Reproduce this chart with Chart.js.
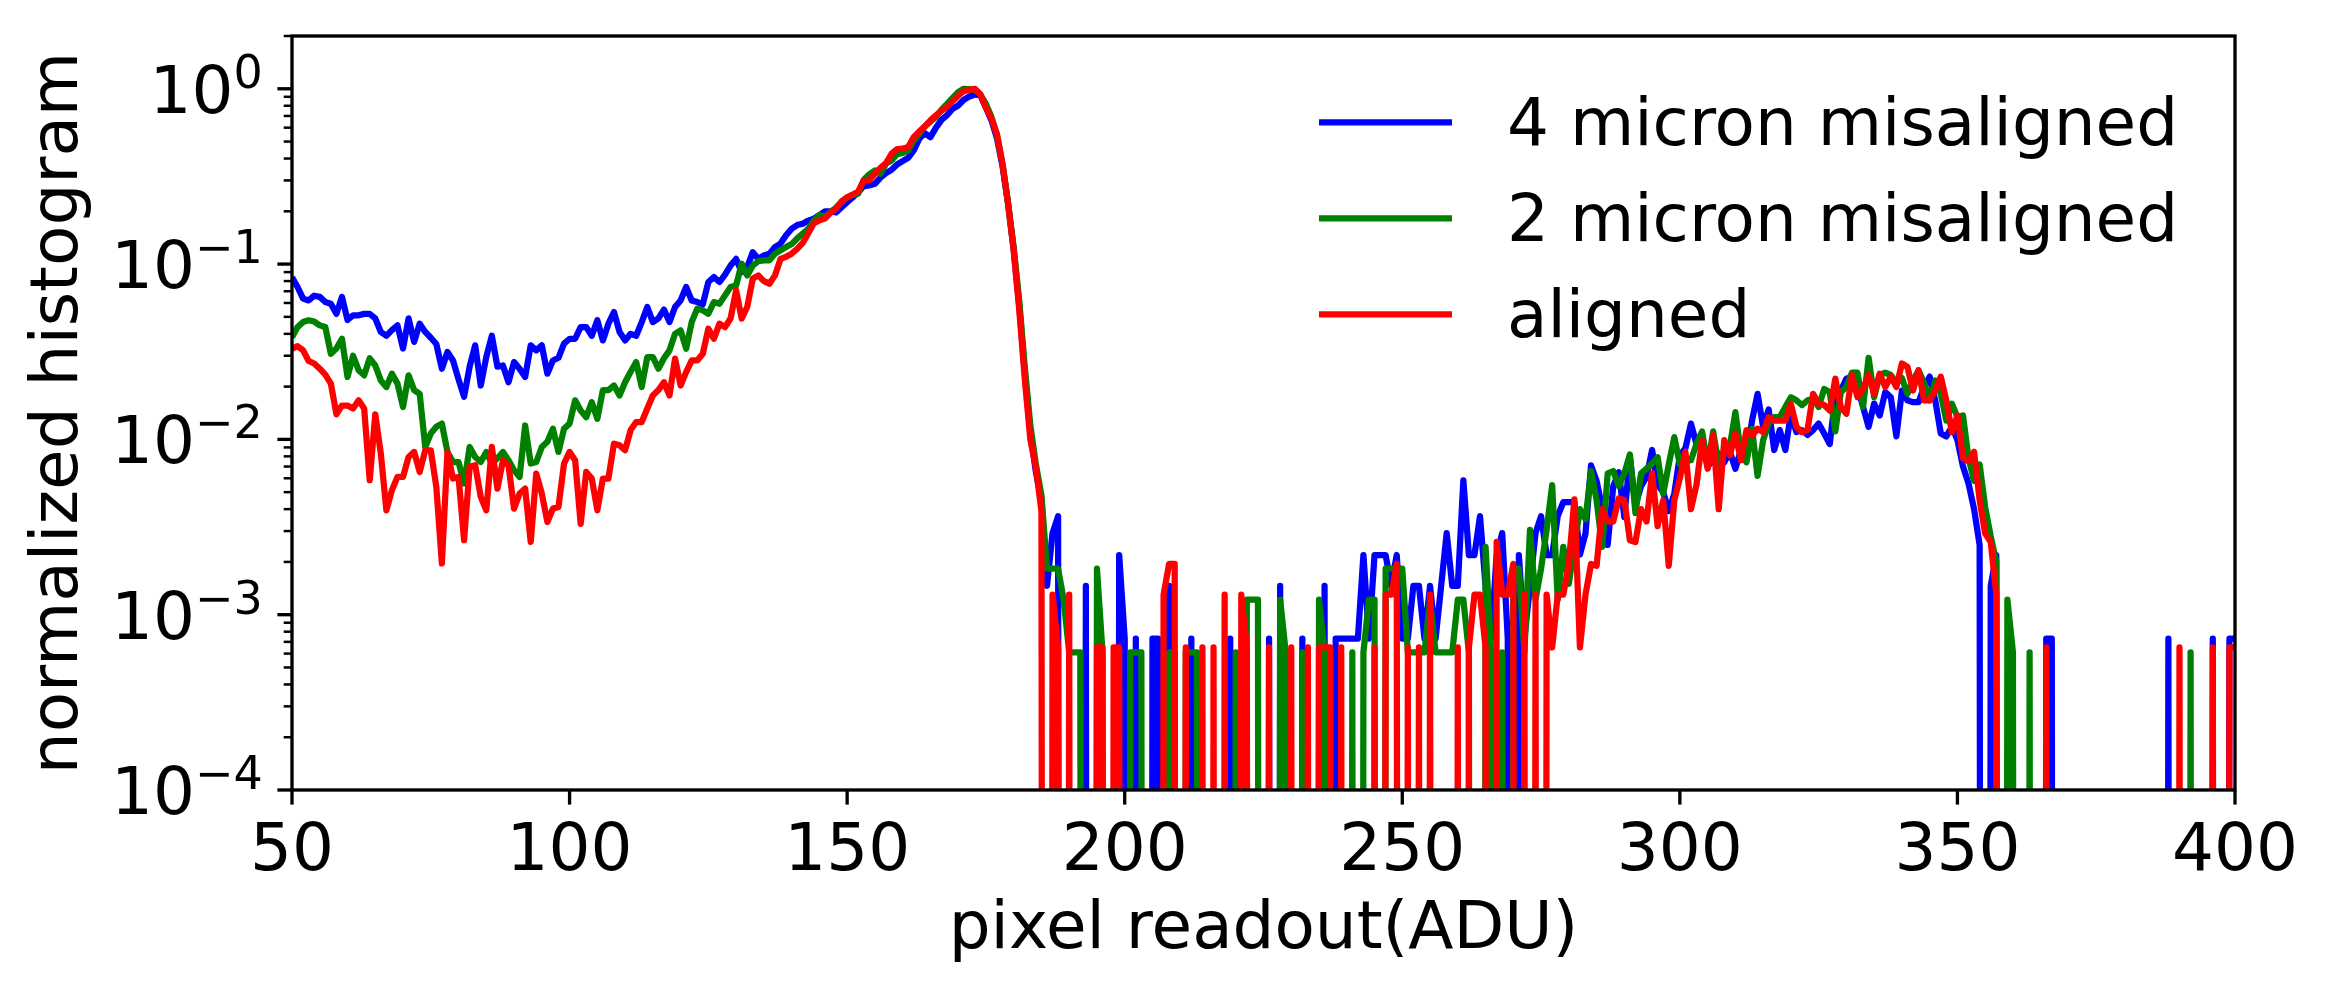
<!DOCTYPE html>
<html>
<head>
<meta charset="utf-8">
<title>normalized histogram</title>
<script src="https://cdn.jsdelivr.net/npm/chart.js"></script>
<style>
  html, body { margin: 0; padding: 0; background: #ffffff; }
  #wrap { width: 2326px; height: 990px; }
</style>
</head>
<body>
<div id="wrap"><canvas id="histChart"></canvas></div>
<script>
// pixel readout bins (ADU)
var adu = [
  50, 51, 52, 53, 54, 55, 56, 57, 58, 59,
  60, 61, 62, 63, 64, 65, 66, 67, 68, 69,
  70, 71, 72, 73, 74, 75, 76, 77, 78, 79,
  80, 81, 82, 83, 84, 85, 86, 87, 88, 89,
  90, 91, 92, 93, 94, 95, 96, 97, 98, 99,
  100, 101, 102, 103, 104, 105, 106, 107, 108, 109,
  110, 111, 112, 113, 114, 115, 116, 117, 118, 119,
  120, 121, 122, 123, 124, 125, 126, 127, 128, 129,
  130, 131, 132, 133, 134, 135, 136, 137, 138, 139,
  140, 141, 142, 143, 144, 145, 146, 147, 148, 149,
  150, 151, 152, 153, 154, 155, 156, 157, 158, 159,
  160, 161, 162, 163, 164, 165, 166, 167, 168, 169,
  170, 171, 172, 173, 174, 175, 176, 177, 178, 179,
  180, 181, 182, 183, 184, 185, 186, 187, 188, 189,
  190, 191, 192, 193, 194, 195, 196, 197, 198, 199,
  200, 201, 202, 203, 204, 205, 206, 207, 208, 209,
  210, 211, 212, 213, 214, 215, 216, 217, 218, 219,
  220, 221, 222, 223, 224, 225, 226, 227, 228, 229,
  230, 231, 232, 233, 234, 235, 236, 237, 238, 239,
  240, 241, 242, 243, 244, 245, 246, 247, 248, 249,
  250, 251, 252, 253, 254, 255, 256, 257, 258, 259,
  260, 261, 262, 263, 264, 265, 266, 267, 268, 269,
  270, 271, 272, 273, 274, 275, 276, 277, 278, 279,
  280, 281, 282, 283, 284, 285, 286, 287, 288, 289,
  290, 291, 292, 293, 294, 295, 296, 297, 298, 299,
  300, 301, 302, 303, 304, 305, 306, 307, 308, 309,
  310, 311, 312, 313, 314, 315, 316, 317, 318, 319,
  320, 321, 322, 323, 324, 325, 326, 327, 328, 329,
  330, 331, 332, 333, 334, 335, 336, 337, 338, 339,
  340, 341, 342, 343, 344, 345, 346, 347, 348, 349,
  350, 351, 352, 353, 354, 355, 356, 357, 358, 359,
  360, 361, 362, 363, 364, 365, 366, 367, 368, 369,
  370, 371, 372, 373, 374, 375, 376, 377, 378, 379,
  380, 381, 382, 383, 384, 385, 386, 387, 388, 389,
  390, 391, 392, 393, 394, 395, 396, 397, 398, 399,
  400
];

// 4 micron misaligned
var misaligned4 = [
  0.084, 0.074, 0.0635, 0.062, 0.066, 0.065, 0.0607, 0.0594, 0.052, 0.065,
  0.048, 0.051, 0.051, 0.052, 0.052, 0.049, 0.041, 0.039, 0.042, 0.0447,
  0.033, 0.049, 0.036, 0.0457, 0.041, 0.038, 0.035, 0.0253, 0.0315, 0.0282,
  0.022, 0.0175, 0.026, 0.0344, 0.0203, 0.0295, 0.039, 0.026, 0.0264, 0.0212,
  0.0276, 0.0253, 0.0227, 0.0344, 0.0322, 0.0344, 0.0237, 0.0282, 0.0292, 0.0352,
  0.0375, 0.0375, 0.0437, 0.0437, 0.039, 0.0478, 0.0367, 0.0457, 0.0533, 0.041,
  0.0367, 0.040, 0.039, 0.0467, 0.0569, 0.0467, 0.049, 0.055, 0.0467, 0.0569,
  0.062, 0.074, 0.062, 0.0607, 0.059, 0.079, 0.0843, 0.079, 0.087, 0.098,
  0.107, 0.090, 0.096, 0.117, 0.107, 0.112, 0.1146, 0.125, 0.131, 0.146,
  0.159, 0.167, 0.170, 0.177, 0.1815, 0.19, 0.200, 0.200, 0.197, 0.211,
  0.2256, 0.24, 0.257, 0.278, 0.281, 0.287, 0.311, 0.330, 0.345, 0.370,
  0.387, 0.404, 0.445, 0.52, 0.558, 0.53, 0.60, 0.665, 0.708, 0.769,
  0.803, 0.866, 0.903, 0.928, 0.916, 0.78, 0.66, 0.52, 0.36, 0.22,
  0.12, 0.058, 0.024, 0.011, 0.0065, 0.0045, 0.00146, 0.00292, 0.00365, 0,
  0, 0, 0, 0.00146, 0, 0, 0, 0, 0, 0.00219,
  0.00073, 0, 0.00073, 0, 0, 0.00073, 0.00073, 0, 0.00146, 0,
  0, 0, 0.00073, 0, 0, 0, 0, 0, 0, 0.00073,
  0, 0, 0, 0, 0, 0, 0.00073, 0, 0.00146, 0,
  0, 0, 0.00073, 0, 0, 0, 0.00146, 0, 0.00073, 0.00073,
  0.00073, 0.00073, 0.00073, 0.00219, 0.00073, 0.00219, 0.00219, 0.00219, 0.00146, 0.00219,
  0.00073, 0.00073, 0.00146, 0.00146, 0.00073, 0.00146, 0.00073, 0.00146, 0.00292, 0.00146,
  0.00146, 0.00584, 0.00219, 0.00219, 0.00365, 0.00146, 0.00073, 0.00219, 0.00292, 0.00073,
  0, 0.00219, 0.00073, 0.00146, 0.00292, 0.00365, 0.00219, 0.00219, 0.00365, 0.00438,
  0.00438, 0.00438, 0.0022, 0.0029, 0.0071, 0.0058, 0.0041, 0.0025, 0.0054, 0.0065,
  0.0036, 0.0079, 0.0042, 0.0054, 0.0061, 0.0087, 0.0055, 0.005, 0.0039, 0.0049,
  0.0081, 0.0089, 0.0123, 0.0094, 0.0108, 0.007, 0.0076, 0.0083, 0.0074, 0.0085,
  0.0068, 0.0087, 0.0076, 0.0128, 0.0182, 0.0118, 0.0148, 0.0087, 0.0113, 0.0087,
  0.014, 0.011, 0.0113, 0.0106, 0.0113, 0.0123, 0.0108, 0.0094, 0.0174, 0.019,
  0.0222, 0.0228, 0.0199, 0.0153, 0.0118, 0.016, 0.0137, 0.0186, 0.0174, 0.0104,
  0.019, 0.0167, 0.0163, 0.0163, 0.0199, 0.0228, 0.0167, 0.0108, 0.0104, 0.0118,
  0.0099, 0.007, 0.0056, 0.004, 0.0025, 0, 0.00146, 0.00219, 0, 0,
  0, 0, 0, 0, 0, 0, 0.00073, 0.00073, 0, 0,
  0, 0, 0, 0, 0, 0, 0, 0, 0, 0,
  0, 0, 0, 0, 0, 0, 0, 0, 0.00073, 0,
  0, 0, 0, 0, 0, 0, 0.00073, 0, 0, 0.00073,
  0.00073
];

// 2 micron misaligned
var misaligned2 = [
  0.0383, 0.0437, 0.0467, 0.0478, 0.047, 0.0447, 0.0437, 0.0308, 0.033, 0.0375,
  0.0227, 0.030, 0.0248, 0.0232, 0.029, 0.0264, 0.0217, 0.0199, 0.0237, 0.0208,
  0.0153, 0.0232, 0.0191, 0.0182, 0.00905, 0.0108, 0.0118, 0.0123, 0.00848, 0.00743,
  0.00743, 0.0056, 0.00905, 0.00794, 0.00743, 0.00848, 0.00728, 0.0078, 0.00848, 0.0076,
  0.00667, 0.00611, 0.012, 0.00728, 0.00743, 0.00905, 0.0097, 0.0115, 0.00848, 0.0115,
  0.0123, 0.0167, 0.0146, 0.0134, 0.0163, 0.0131, 0.0191, 0.0191, 0.0203, 0.0178,
  0.0212, 0.0243, 0.0276, 0.0199, 0.0295, 0.0295, 0.0253, 0.029, 0.0322, 0.040,
  0.0419, 0.0329, 0.0467, 0.0557, 0.0545, 0.0521, 0.0607, 0.0594, 0.0663, 0.0739,
  0.0756, 0.1005, 0.0862, 0.098, 0.104, 0.105, 0.105, 0.1146, 0.1197, 0.125,
  0.13, 0.140, 0.149, 0.159, 0.1775, 0.19, 0.187, 0.198, 0.21, 0.2256,
  0.24, 0.248, 0.252, 0.303, 0.325, 0.342, 0.3275, 0.374, 0.39, 0.423,
  0.43, 0.445, 0.505, 0.554, 0.61, 0.65, 0.689, 0.76, 0.82, 0.887,
  0.956, 1.0, 0.995, 0.99, 0.928, 0.82, 0.69, 0.54, 0.37, 0.22,
  0.125, 0.062, 0.026, 0.012, 0.0072, 0.0048, 0.00183, 0.00183, 0.00183, 0.00122,
  0.00061, 0.00061, 0.00061, 0, 0, 0.00183, 0.00061, 0, 0, 0,
  0, 0.00061, 0.00061, 0.00061, 0, 0, 0, 0, 0.00061, 0.00061,
  0, 0.00061, 0.00061, 0.00061, 0, 0, 0, 0, 0, 0,
  0.00061, 0, 0.00122, 0.00122, 0.00122, 0, 0, 0, 0.00122, 0.00061,
  0, 0, 0.00061, 0, 0, 0.00122, 0.00061, 0, 0, 0,
  0, 0.00061, 0, 0.00061, 0.00122, 0.00122, 0, 0.00183, 0.00183, 0.00183,
  0.00183, 0.00061, 0.00061, 0.00061, 0.00061, 0.00122, 0.00061, 0.00061, 0.00061, 0.00061,
  0.00122, 0.00122, 0.00061, 0, 0, 0.00244, 0.00061, 0, 0.00061, 0,
  0.00183, 0.00183, 0.00061, 0.00305, 0.00122, 0.00183, 0.00305, 0.00549, 0.00122, 0.00244,
  0.0015, 0.0025, 0.004, 0.0035, 0.0066, 0.0045, 0.00244, 0.0064, 0.0066, 0.0054,
  0.0064, 0.0082, 0.0038, 0.0064, 0.0068, 0.0073, 0.0079, 0.0049, 0.0072, 0.0103,
  0.0072, 0.0075, 0.0076, 0.0094, 0.0111, 0.007, 0.0111, 0.0071, 0.0083, 0.0091,
  0.0143, 0.0083, 0.0074, 0.0115, 0.0062, 0.0099, 0.0123, 0.0134, 0.0134, 0.0153,
  0.0174, 0.0167, 0.0157, 0.0167, 0.017, 0.0153, 0.0194, 0.0186, 0.0111, 0.0186,
  0.0199, 0.024, 0.024, 0.0153, 0.0292, 0.0174, 0.0233, 0.024, 0.0233, 0.021,
  0.0224, 0.0182, 0.0217, 0.0248, 0.021, 0.0167, 0.0217, 0.0182, 0.0128, 0.016,
  0.0134, 0.0137, 0.0078, 0.0058, 0.0072, 0.0041, 0.0028, 0.002, 0, 0.00122,
  0.00061, 0, 0, 0.00061, 0, 0, 0, 0, 0, 0,
  0, 0, 0, 0, 0, 0, 0, 0, 0, 0,
  0, 0, 0, 0, 0, 0, 0, 0, 0, 0,
  0, 0, 0.00061, 0, 0, 0, 0, 0, 0, 0,
  0
];

// aligned
var aligned = [
  0.0329, 0.034, 0.0322, 0.028, 0.0271, 0.0253, 0.0234, 0.0208, 0.0139, 0.0156,
  0.0156, 0.015, 0.0167, 0.015, 0.00585, 0.0139, 0.0083, 0.00394, 0.00513, 0.00611,
  0.00611, 0.00794, 0.00848, 0.00652, 0.00867, 0.00867, 0.00535, 0.00196, 0.00848, 0.00598,
  0.00611, 0.00266, 0.00697, 0.00712, 0.0047, 0.00394, 0.00905, 0.00524, 0.0076, 0.00712,
  0.00403, 0.00491, 0.00524, 0.0026, 0.00638, 0.00491, 0.00338, 0.00403, 0.00412, 0.00728,
  0.00848, 0.0076, 0.0033, 0.00652, 0.00598, 0.00394, 0.00598, 0.00598, 0.00946, 0.00925,
  0.00867, 0.0113, 0.01256, 0.01256, 0.015, 0.0178, 0.0191, 0.0212, 0.0178, 0.0289,
  0.0203, 0.0242, 0.0282, 0.0282, 0.0308, 0.0428, 0.0375, 0.0457, 0.0437, 0.0489,
  0.0708, 0.0489, 0.0569, 0.0826, 0.0862, 0.080, 0.0773, 0.0862, 0.107, 0.11,
  0.1146, 0.122, 0.132, 0.150, 0.171, 0.1775, 0.182, 0.196, 0.207, 0.228,
  0.240, 0.249, 0.26, 0.300, 0.300, 0.328, 0.354, 0.377, 0.426, 0.453,
  0.455, 0.465, 0.530, 0.572, 0.61, 0.66, 0.705, 0.75, 0.79, 0.85,
  0.916, 0.97, 0.985, 1.0, 0.928, 0.78, 0.675, 0.55, 0.37, 0.22,
  0.12, 0.055, 0.022, 0.010, 0.0069, 0.0039, 0, 0.0013, 0.00065, 0,
  0.0013, 0, 0, 0, 0, 0.00065, 0.00065, 0, 0.00065, 0.00065,
  0, 0, 0, 0, 0, 0, 0, 0.0013, 0.00195, 0.00195,
  0, 0.00065, 0, 0, 0.00065, 0, 0.00065, 0, 0.0013, 0,
  0, 0.0013, 0.00065, 0, 0, 0, 0.00065, 0, 0, 0,
  0.00065, 0, 0, 0.00065, 0, 0.00065, 0.00065, 0.00065, 0, 0.00065,
  0, 0, 0, 0, 0, 0.00065, 0, 0.0013, 0.0013, 0.00195,
  0, 0.00065, 0, 0.00065, 0, 0.0013, 0, 0, 0, 0,
  0.00065, 0, 0.00065, 0.0013, 0.0013, 0.00065, 0, 0.0026, 0.0013, 0.0013,
  0.00195, 0, 0.0013, 0, 0.0013, 0, 0.0013, 0.00065, 0.0013, 0.0013,
  0.00195, 0.00455, 0.00065, 0.0013, 0.00195, 0.0019, 0.0040, 0.0034, 0.0034, 0.0046,
  0.0045, 0.00266, 0.0026, 0.0040, 0.0034, 0.0064, 0.0032, 0.0045, 0.0019, 0.0045,
  0.006, 0.0085, 0.0040, 0.0055, 0.0099, 0.0068, 0.0106, 0.0040, 0.0099, 0.0081,
  0.0108, 0.0076, 0.0113, 0.0105, 0.0115, 0.011, 0.0134, 0.0128, 0.0128, 0.0128,
  0.0159, 0.0118, 0.011, 0.0113, 0.0182, 0.016, 0.0157, 0.0146, 0.0222, 0.0153,
  0.014, 0.0233, 0.0174, 0.0194, 0.0233, 0.0182, 0.0237, 0.0199, 0.0228, 0.0199,
  0.0271, 0.0259, 0.019, 0.0248, 0.0167, 0.0167, 0.019, 0.0228, 0.0167, 0.011,
  0.0137, 0.0078, 0.0075, 0.0085, 0.0045, 0.0029, 0.0026, 0.0013, 0, 0,
  0, 0, 0, 0, 0, 0, 0.00065, 0, 0, 0,
  0, 0, 0, 0, 0, 0, 0, 0, 0, 0,
  0, 0, 0, 0, 0, 0, 0, 0, 0, 0,
  0.00065, 0, 0, 0, 0, 0, 0.00065, 0, 0, 0.00065,
  0.00065
];

var seriesLabels = ['4 micron misaligned', '2 micron misaligned', 'aligned'];
var seriesColors = ['#0000ff', '#008000', '#ff0000'];
var xTicks = [50, 100, 150, 200, 250, 300, 350, 400];
var yExponents = [-4, -3, -2, -1, 0];

// empty bins: push far below the axis like matplotlib clips non-positive values on a log axis
var LOG_FLOOR = 1e-30;

function toPoints(values) {
    return adu.map(function (a, i) {
        return { x: a, y: values[i] > 0 ? values[i] : LOG_FLOOR };
    });
}

var FONT = '"DejaVu Sans", sans-serif';

// frame, ticks, tick labels, axis titles and legend, drawn in matplotlib style
var axisDecor = {
    id: 'axisDecor',
    afterDatasetsDraw: function (chart) {
        var ctx = chart.ctx;
        var area = chart.chartArea;
        var xs = chart.scales.x;
        var ys = chart.scales.y;

        function seg(x1, y1, x2, y2) {
            ctx.beginPath();
            ctx.moveTo(x1, y1);
            ctx.lineTo(x2, y2);
            ctx.stroke();
        }

        ctx.save();
        ctx.strokeStyle = '#000';
        ctx.fillStyle = '#000';
        ctx.lineCap = 'butt';

        // minor y ticks
        ctx.lineWidth = 2.5;
        yExponents.forEach(function (e) {
            for (var m = 2; m <= 9; m++) {
                var v = m * Math.pow(10, e);
                if (v > ys.max) break;
                var py = ys.getPixelForValue(v);
                seg(area.left - 8.3, py, area.left, py);
            }
        });

        // major ticks
        ctx.lineWidth = 3.33;
        xTicks.forEach(function (t) {
            var px = xs.getPixelForValue(t);
            seg(px, area.bottom, px, area.bottom + 14.6);
        });
        yExponents.forEach(function (e) {
            var py = ys.getPixelForValue(Math.pow(10, e));
            seg(area.left - 14.6, py, area.left, py);
        });

        // frame
        ctx.strokeRect(area.left, area.top, area.right - area.left, area.bottom - area.top);

        // x tick labels
        ctx.font = '66px ' + FONT;
        ctx.textAlign = 'center';
        ctx.textBaseline = 'alphabetic';
        xTicks.forEach(function (t) {
            ctx.fillText(String(t), xs.getPixelForValue(t), area.bottom + 80);
        });

        // y tick labels 10^n
        var labelRight = area.left - 29.2;
        yExponents.forEach(function (e) {
            var py = ys.getPixelForValue(Math.pow(10, e));
            var sup = e === 0 ? '0' : '\u2212' + (-e);
            ctx.textAlign = 'right';
            ctx.font = '46px ' + FONT;
            ctx.fillText(sup, labelRight, py - 1);
            var w = ctx.measureText(sup).width;
            ctx.font = '66px ' + FONT;
            ctx.fillText('10', labelRight - w, py + 24);
        });

        // axis titles
        ctx.font = '66px ' + FONT;
        ctx.textAlign = 'center';
        ctx.fillText('pixel readout(ADU)', (area.left + area.right) / 2, 948);
        ctx.save();
        ctx.translate(77, (area.top + area.bottom) / 2);
        ctx.rotate(-Math.PI / 2);
        ctx.fillText('normalized histogram', 0, 0);
        ctx.restore();

        // legend
        ctx.textAlign = 'left';
        chart.data.datasets.forEach(function (ds, i) {
            var ly = 122.3 + 96 * i;
            ctx.strokeStyle = ds.borderColor;
            ctx.lineWidth = 6.25;
            seg(1319, ly, 1452, ly);
            ctx.fillStyle = '#000';
            ctx.fillText(ds.label, 1507, 145 + 96 * i);
        });

        ctx.restore();
    }
};

var seriesValues = [misaligned4, misaligned2, aligned];

var ctx = document.getElementById('histChart').getContext('2d');
var histChart = new Chart(ctx, {
    type: 'line',
    data: {
        datasets: seriesValues.map(function (vals, i) {
            return {
                label: seriesLabels[i],
                data: toPoints(vals),
                borderColor: seriesColors[i],
                backgroundColor: seriesColors[i],
                borderWidth: 6.25,
                borderJoinStyle: 'round',
                pointRadius: 0,
                fill: false,
                tension: 0,
                order: 3 - i   // red on top, blue at the bottom
            };
        })
    },
    options: {
        responsive: true,
        maintainAspectRatio: false,
        animation: false,
        layout: { padding: { left: 292, right: 91, top: 36, bottom: 200 } },
        plugins: {
            legend: { display: false },
            tooltip: { enabled: false }
        },
        scales: {
            x: { type: 'linear', min: 50, max: 400, display: false },
            y: { type: 'logarithmic', min: 1e-4, max: 2, display: false }
        }
    },
    plugins: [axisDecor]
});
</script>
</body>
</html>
